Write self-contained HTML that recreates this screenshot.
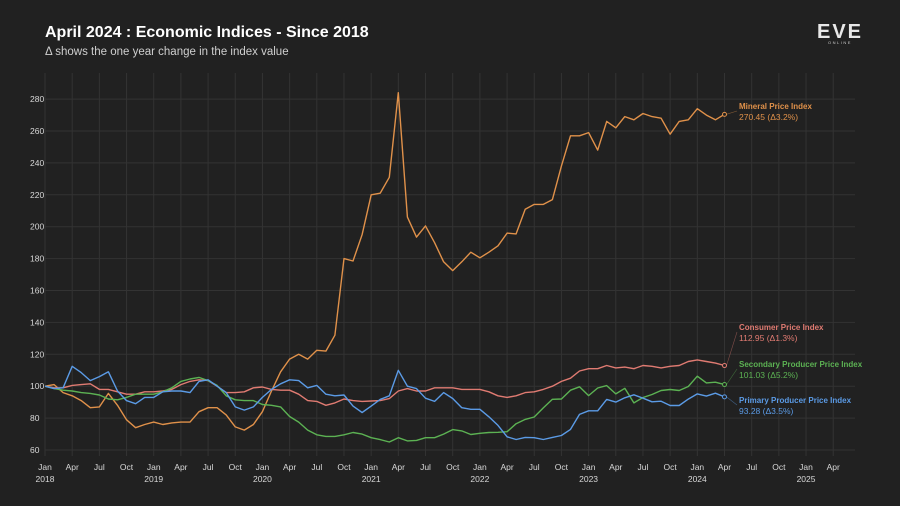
<!DOCTYPE html>
<html><head><meta charset="utf-8"><style>
html,body{margin:0;padding:0;background:#212121;}
svg{display:block;font-family:"Liberation Sans",sans-serif;}
</style></head><body>
<svg id="chart" width="900" height="506" viewBox="0 0 900 506">
<rect width="900" height="506" fill="#212121"/>
<text x="45" y="37" fill="#ffffff" font-size="16" font-weight="bold">April 2024 : Economic Indices - Since 2018</text>
<text x="45" y="55" fill="#cfcfcf" font-size="11.5">Δ shows the one year change in the index value</text>
<g>
<text x="840" y="38" fill="#e8e8e8" font-size="20" font-weight="bold" text-anchor="middle" letter-spacing="2">EVE</text>
<text x="840" y="44" fill="#cccccc" font-size="4" text-anchor="middle" letter-spacing="1.5">ONLINE</text>
</g>
<g id="grid"></g><g id="axes"></g><g id="series"></g><g id="labels"></g>
</svg>
<script>
const months = 76; // Jan 2018 .. Apr 2024
const yTicks = [60,80,100,120,140,160,180,200,220,240,260,280];
const monthNames = ["Jan","Apr","Jul","Oct"];
const years = ["2018","2019","2020","2021","2022","2023","2024","2025"];
const mineral = [100,101,96,94,91,86.5,87,95.5,88,79,74,76,77.5,76,77,77.5,77.5,84,86.5,86.5,82,74.5,72.5,76,84,97,109,117,120,117,122.5,122,132,180,178.5,195,220,221,231,284,206,193.5,200.5,190,178,172.5,178,184,180.5,184,188,196,195.5,211,214,214,217,238,257,257,259,248,266,262,269,267,271,269,268,258,266,267,274,270,267,270.45];
const consumer = [100,99,99,100.5,101,101.5,98,98,96.5,95,95,96.5,96.5,97,98,101,103,104,103.5,100,96,96,96.5,99,99.5,98,97.5,97.5,95,91,90.5,88,89.5,92,91,90.5,90.7,91,92.2,97,98.5,97,97,99,99,99,98,98,98,96.5,94,93,94,96,96.5,98,100,103,105,109.5,111,111,113,111.5,112,111,113,112.5,111.5,112.5,113,115.5,116.5,115.5,114.5,112.95];
const secondary = [100,98.5,97.5,97,96,95.5,94.5,92,91.5,93,95,95,95,96.5,99,103,104.5,105.5,103.5,100.5,94,91.5,91,91,88.5,88,87,81,77.5,72.5,69.5,68.5,68.5,69.5,71,70,67.7,66.5,65,67.7,65.7,66,67.7,67.7,70,72.8,72,69.7,70.5,71,71.1,71.5,76.5,79.2,80.7,86.4,91.8,92,97.5,99.6,94.1,98.9,100.4,95.2,98.7,89.5,92.9,94.8,97.3,97.9,97.3,99.8,106.3,102.1,102.5,101.03];
const primary = [100,98.5,99,112.5,108.5,103.5,106,109,97,91,89,93,93,96.5,97,97,96,103,104,100,96,87,85,87,93,98,101.5,104,103.5,99,100.5,95,94,94.5,87.5,83.5,87.5,91.7,94,110,100,98.5,92.5,90.5,96,92.3,86.5,85.5,85.5,80.8,75.4,68.3,66.6,67.9,67.7,66.6,67.9,69.1,72.9,82.3,84.6,84.6,91.7,90,92.7,94.6,92.5,90.2,90.6,87.9,87.9,91.9,95.2,93.8,95.6,93.28];
const seriesNames = ["Mineral Price Index","Consumer Price Index","Secondary Producer Price Index","Primary Producer Price Index"];
const seriesLabels = ["270.45 (Δ3.2%)","112.95 (Δ1.3%)","101.03 (Δ5.2%)","93.28 (Δ3.5%)"];

const NS="http://www.w3.org/2000/svg";
const X0=45, XS=9.06, Y0=450, YS=1.595, VMIN=60, XR=855, YT=73;
const xS = m => X0 + m*XS;
const yS = v => Y0 - (v-VMIN)*YS;
function mk(tag, attrs, parent){const e=document.createElementNS(NS,tag);for(const k in attrs)e.setAttribute(k,attrs[k]);parent.appendChild(e);return e;}
const grid=document.getElementById('grid'), axes=document.getElementById('axes'), ser=document.getElementById('series'), lab=document.getElementById('labels');

yTicks.forEach(v=>{
  const l=mk('line',{x1:X0,x2:XR,y1:yS(v),y2:yS(v),stroke:'#333333','stroke-width':1},grid);
  
  
  const t=mk('text',{x:30,y:yS(v)+3,fill:'#d8d8d8','font-size':8.5},axes);
  t.textContent=v;
  
  
});
for(let q=0;q<=29;q++){
  const m=q*3, x=xS(m);
  const l=mk('line',{x1:x,x2:x,y1:YT,y2:Y0+6,stroke:'#333333','stroke-width':1},grid);
  
  
  const t=mk('text',{x:x,y:470,fill:'#d8d8d8','font-size':8.5,'text-anchor':'middle'},axes);
  t.textContent=monthNames[q%4];
  
  
  if(q%4===0){
    const y=mk('text',{x:x,y:482,fill:'#d8d8d8','font-size':8.5,'text-anchor':'middle'},axes);
    y.textContent=years[q/4];
    
    
  }
}
const data=[mineral,consumer,secondary,primary];
const colors=['#e0914a','#e07b72','#5cb253','#5b9be6'];
const keys=['mineral','consumer','secondary','primary'];
const labelY=[109,330,367,403];
data.forEach((arr,i)=>{
  const pts=arr.map((v,m)=>xS(m).toFixed(1)+','+yS(v).toFixed(1)).join(' ');
  const p=mk('polyline',{points:pts,fill:'none',stroke:colors[i],'stroke-width':1.4,'stroke-linejoin':'round'},ser);
  
  
  const lm=arr.length-1, ex=xS(lm), ey=yS(arr[lm]);
  const ld=mk('line',{x1:ex+2,y1:ey,x2:737,y2:labelY[i]+2,stroke:colors[i],'stroke-width':0.6,opacity:0.5},lab);
  
  
  const c=mk('circle',{cx:ex,cy:ey,r:2,fill:'#212121',stroke:colors[i],'stroke-width':1},ser);
  
  
  const t1=mk('text',{x:739,y:labelY[i],fill:colors[i],'font-size':8,'font-weight':'bold'},lab);
  t1.textContent=seriesNames[i];
  
  
  const t2=mk('text',{x:739,y:labelY[i]+11,fill:colors[i],'font-size':8.5},lab);
  t2.textContent=seriesLabels[i];
  
  
});
</script>
</body></html>
